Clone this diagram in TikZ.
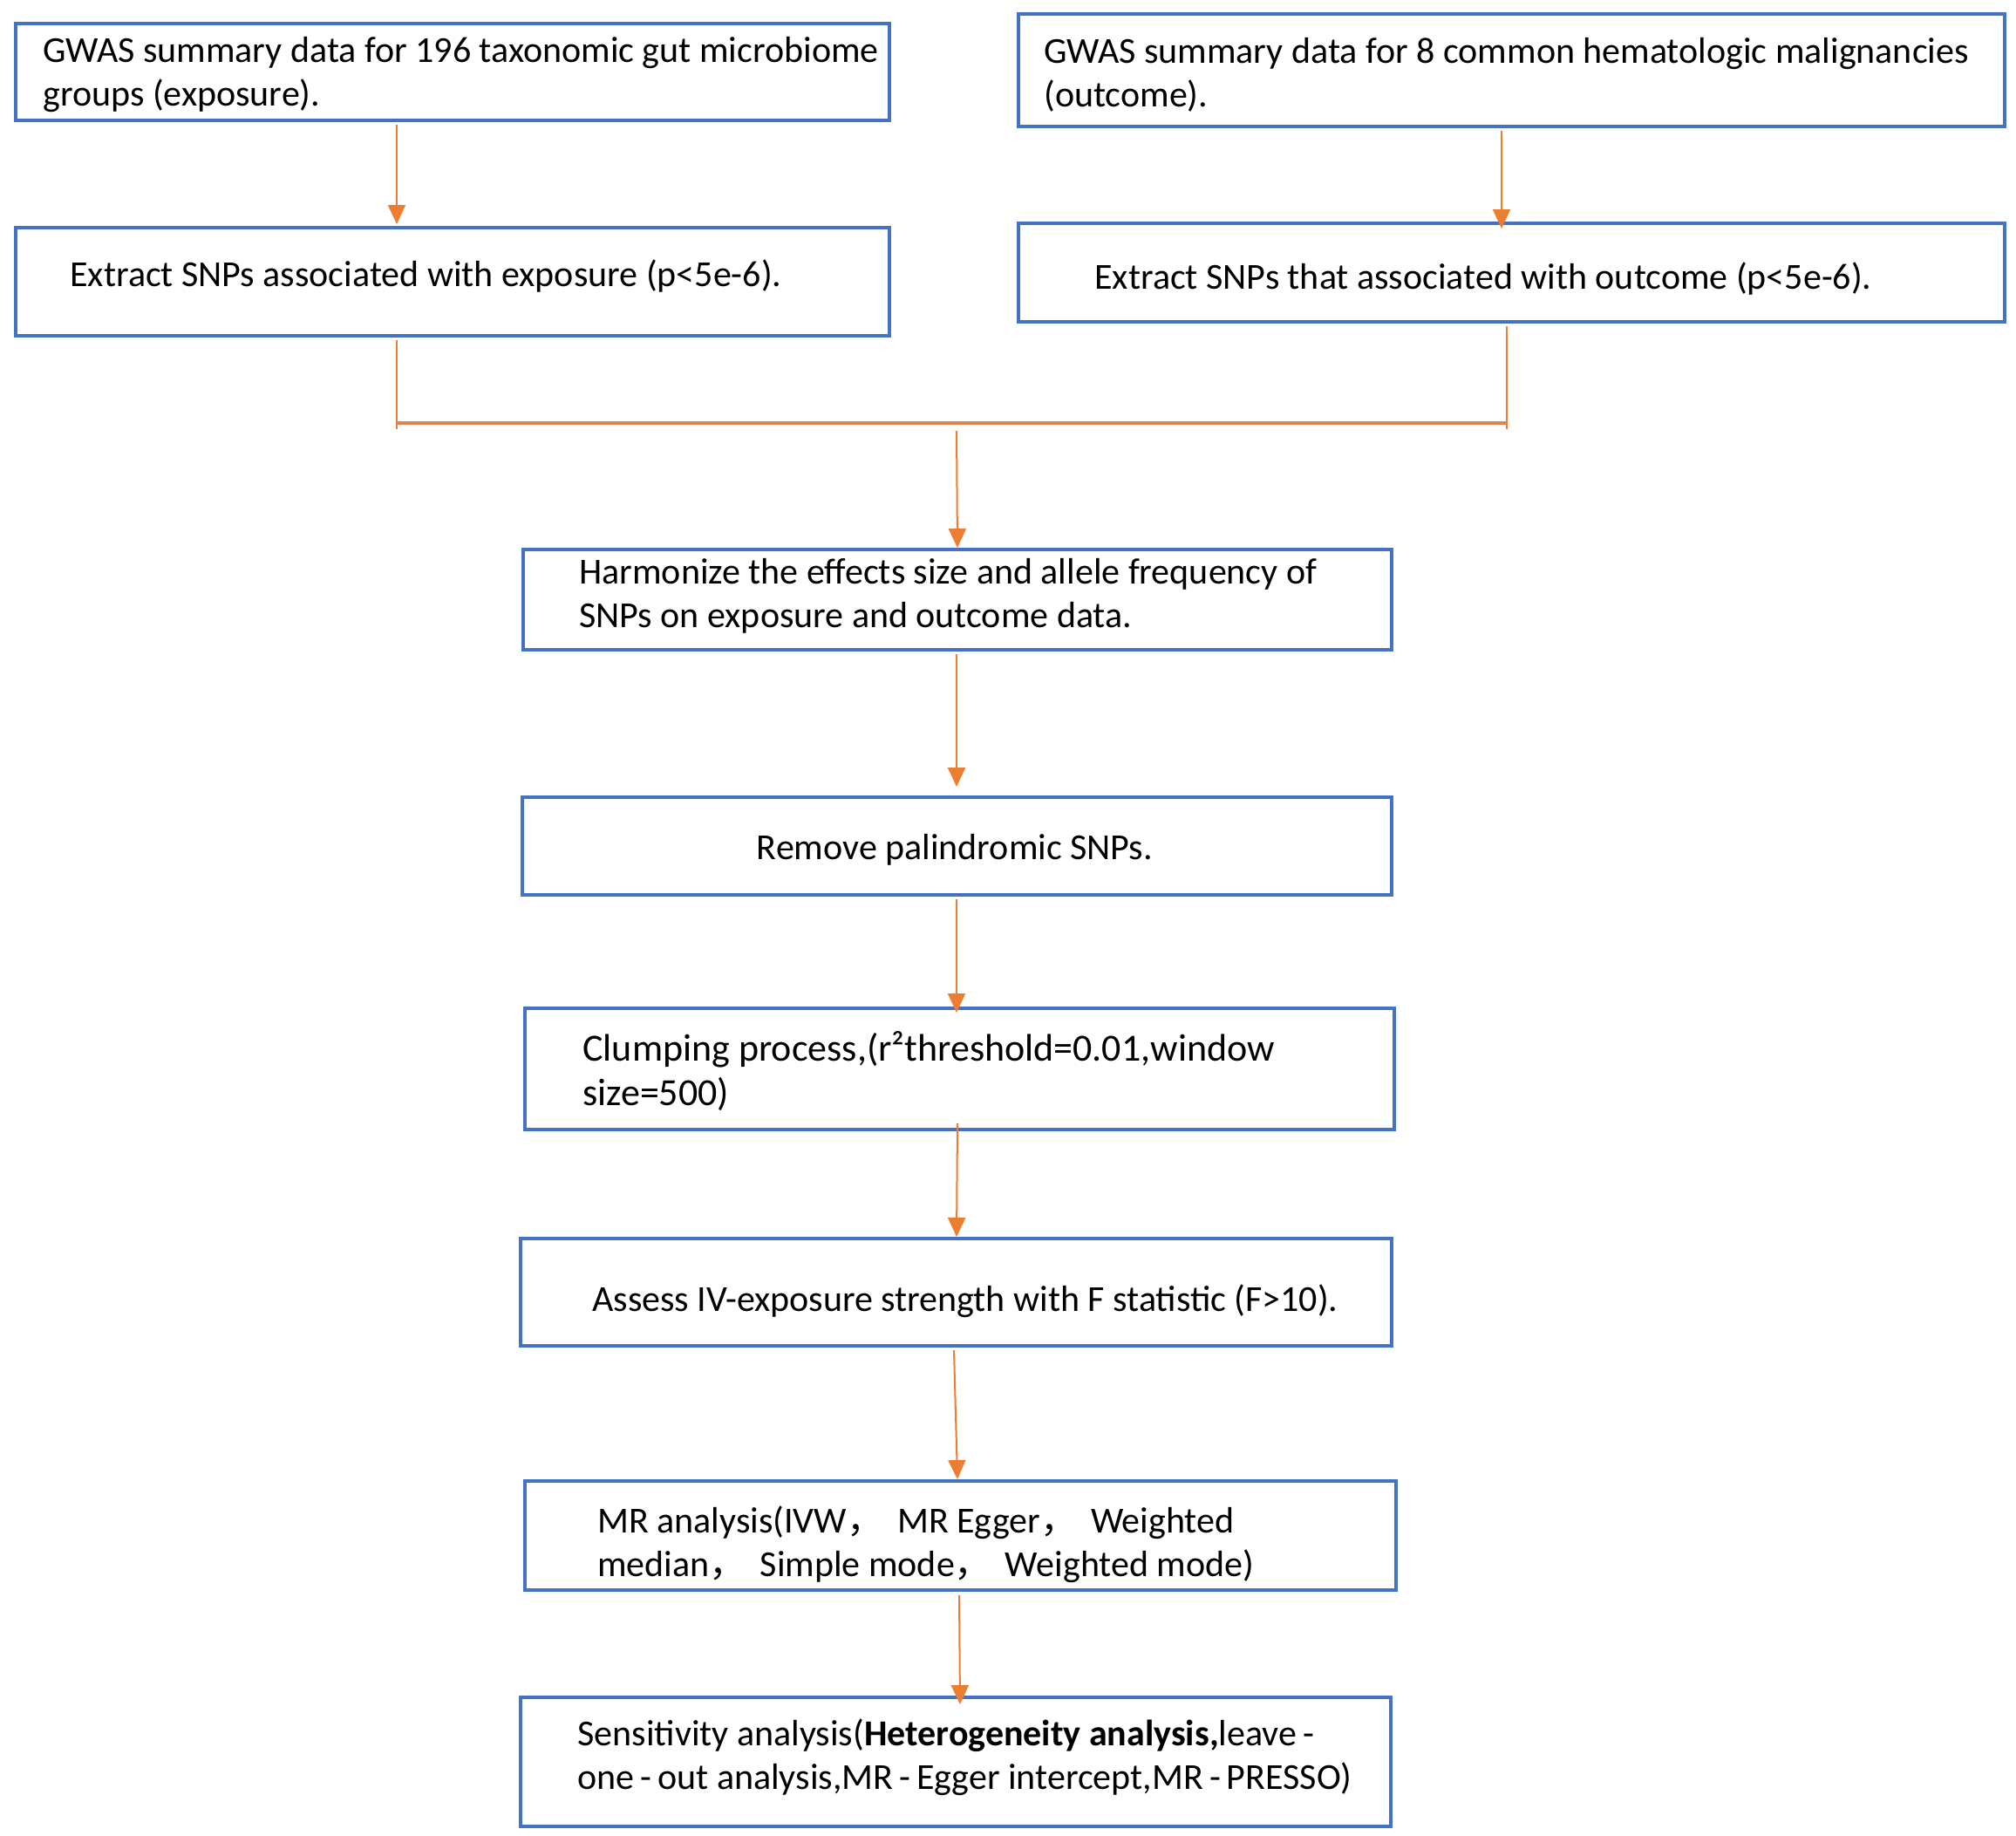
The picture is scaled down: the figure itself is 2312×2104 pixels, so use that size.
\documentclass[tikz,border=0pt]{standalone}
\usepackage{fontspec}
\setmainfont{Carlito}
\newfontfamily\cjkfont{Noto Sans CJK SC}
\usetikzlibrary{arrows.meta,fit,calc}
\definecolor{boxblue}{HTML}{4472C4}
\definecolor{arrorange}{HTML}{ED7D31}
\definecolor{joinorange}{HTML}{DD8452}
\newcommand{\fwcomma}{{\cjkfont ，}\hspace{8pt}}
\newcommand{\wh}{\kern3.5pt-\kern3.5pt}
\begin{document}
\begin{tikzpicture}[x=0.5pt,y=-0.5pt,
  box/.style={draw=boxblue, line width=2pt, inner sep=0pt},
  txt/.style={anchor=west, align=left, inner sep=0pt, font=\fontsize{21}{25}\selectfont},
  conn/.style={draw=arrorange, line width=1pt},
  joinline/.style={draw=joinorange, line width=1.6pt},
  arr/.style={conn, -{Triangle[width=10pt,length=11pt]}}]
\useasboundingbox (0,0) rectangle (2312,2104);
\fill[white] (0,0) rectangle (2312,2104);

% boxes
\node[box, fit={(18,27) (1020,138)}] (b1) {};
\node[box, fit={(18,261) (1020,385)}] (b2) {};
\node[box, fit={(1168,16) (2299,145)}] (b3) {};
\node[box, fit={(1168,256) (2299,369)}] (b4) {};
\node[box, fit={(600,630) (1596,745)}] (h) {};
\node[box, fit={(599,914) (1596,1026)}] (r) {};
\node[box, fit={(602,1156) (1599,1295)}] (c) {};
\node[box, fit={(597,1420) (1596,1543)}] (a) {};
\node[box, fit={(602,1698) (1601,1823)}] (m) {};
\node[box, fit={(597,1946) (1595,2094)}] (s) {};

% texts
\node[txt] (t1) at (49,86) {GWAS summary data for 196 taxonomic gut microbiome\\groups (exposure).};
\node[txt] (t2) at (80,317) {Extract SNPs associated with exposure (p<5e-6).};
\node[txt] (t3) at (1197,86) {GWAS summary data for 8 common hematologic malignancies\\(outcome).};
\node[txt] (t4) at (1255,320) {Extract SNPs that associated with outcome (p<5e-6).};
\node[txt] (t5) at (664,683) {Harmonize the effects size and allele frequency of\\SNPs on exposure and outcome data.};
\node[txt, anchor=center] (t6) at (1095,974) {Remove palindromic SNPs.};
\node[txt, font=\fontsize{22}{25.5}\selectfont] (t7) at (668,1228.5) {Clumping process,(r²threshold=0.01,window\\size=500)};
\node[txt] (t8) at (679,1492) {Assess IV-exposure strength with F statistic (F>10).};
\node[txt] (t9) at (685,1771) {MR analysis(IVW\fwcomma MR Egger\fwcomma Weighted\\median\fwcomma Simple mode\fwcomma Weighted mode)};
\node[txt] (t10) at (662,2015) {Sensitivity analysis({\bfseries Heterogeneity analysis,}leave\wh\\one\wh out analysis,MR\wh Egger intercept,MR\wh PRESSO)};

% junction coordinates
\coordinate (jl) at (455,485);
\coordinate (jr) at (1728,485);
\coordinate (jlb) at (455,492);
\coordinate (jrb) at (1728,492);
\coordinate (jc) at (1097,494);

% connectors
\draw[arr] ($(b1.south)+(-64,3)$) -- ($(b2.north)+(-64,-2)$);
\draw[arr] ($(b3.south)+(-11.5,3)$) -- ($(b4.north)+(-11.5,8)$);
\draw[conn] ($(b2.south)+(-64,3)$) -- (jlb);
\draw[conn] ($(b4.south)+(-5.5,3)$) -- (jrb);
\draw[joinline] (jl) -- (jr);
\draw[arr] (jc) -- (h.north);
\draw[arr] ($(h.south)+(-1,3)$) -- ($(r.north)+(-0.5,-10)$);
\draw[arr] ($(r.south)+(-0.5,3)$) -- ($(c.north)+(-3.5,7)$);
\draw[arr] ($(c.south)+(-2.5,-9)$) -- ($(a.north)+(0.5,0)$);
\draw[arr] ($(a.south)+(-2.5,3)$) -- ($(m.north)+(-3.5,0)$);
\draw[arr] ($(m.south)+(-1.5,4)$) -- ($(s.north)+(5,10)$);
\end{tikzpicture}
\end{document}
